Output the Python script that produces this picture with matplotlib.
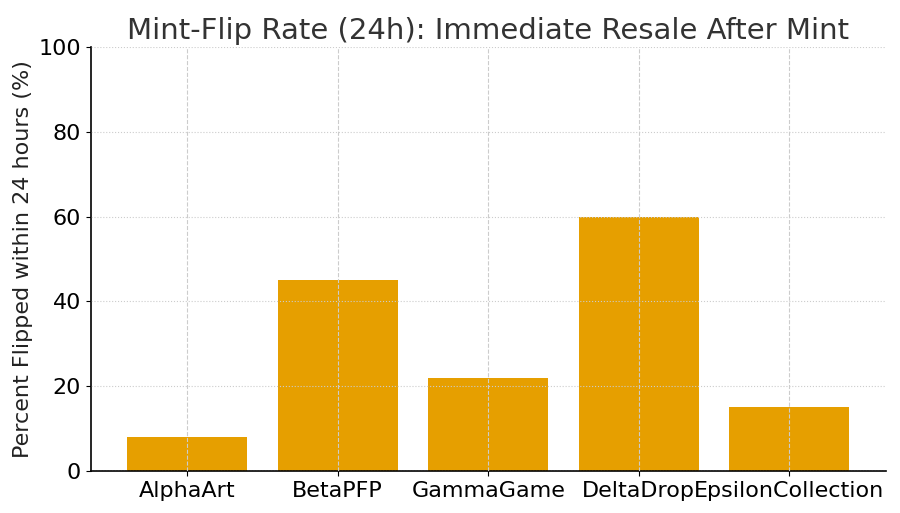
import matplotlib
matplotlib.use("Agg")
import matplotlib.pyplot as plt

# data
collections = ["AlphaArt", "BetaPFP", "GammaGame", "DeltaDrop", "EpsilonCollection"]
flip_rate = [8, 45, 22, 60, 15]
yticks = [0, 20, 40, 60, 80, 100]

fig, ax = plt.subplots(figsize=(9, 5.13), dpi=100)
fig.subplots_adjust(left=0.101, right=0.984, top=0.908, bottom=0.082)

ax.bar(collections, flip_rate, color="#E69F00", width=0.8)

ax.set_ylim(0, 100)
ax.set_yticks(yticks)
ax.set_title("Mint-Flip Rate (24h): Immediate Resale After Mint", fontsize=21, color="#333333", pad=6)
ax.set_ylabel("Percent Flipped within 24 hours (%)", fontsize=16, color="#222222")
ax.tick_params(axis="both", labelsize=16)

# grid: dashed vertical, dotted horizontal
ax.set_axisbelow(False)
ax.xaxis.grid(True, linestyle="--", color="#cccccc", linewidth=0.8)
ax.yaxis.grid(True, linestyle=":", color="#cccccc", linewidth=0.8)

ax.spines["top"].set_visible(False)
ax.spines["right"].set_visible(False)
ax.spines["left"].set_linewidth(1.2)
ax.spines["bottom"].set_linewidth(1.2)

fig.savefig("out.png", dpi=100)
